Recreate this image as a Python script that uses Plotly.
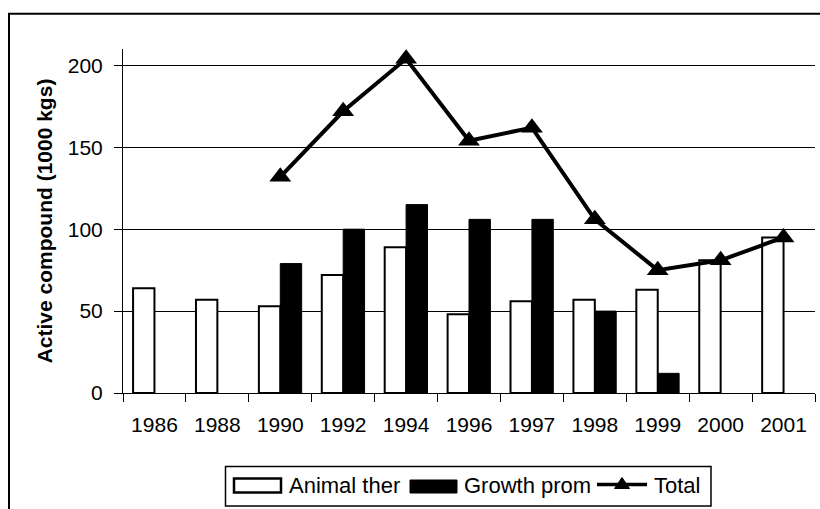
import plotly.graph_objects as go

years = ["1986", "1988", "1990", "1992", "1994", "1996", "1997", "1998", "1999", "2000", "2001"]
animal_ther = [64, 57, 53, 72, 89, 48, 56, 57, 63, 81, 95]
growth_prom = [None, None, 79, 100, 115, 106, 106, 50, 12, None, None]
total = [None, None, 132, 172, 204, 154, 162, 106, 75, 81, 95]
y_ticks = [0, 50, 100, 150, 200]

FONT = "Liberation Sans, Arial, sans-serif"
W, H = 820, 509
L, R, T, B = 123, 5, 49, 116
pw, ph = W - L - R, H - T - B

def px_x(x):
    return (x - L) / pw

def px_y(y):
    return (H - B - y) / ph

fig = go.Figure()
fig.add_trace(go.Bar(
    x=years, y=animal_ther, name="Animal ther",
    marker=dict(color="white", line=dict(color="black", width=2)),
))
fig.add_trace(go.Bar(
    x=years, y=growth_prom, name="Growth prom",
    marker=dict(color="black", line=dict(color="black", width=1)),
))
fig.add_trace(go.Scatter(
    x=years, y=total, name="Total", mode="lines+markers",
    line=dict(color="black", width=4),
    marker=dict(symbol="triangle-up", size=19, color="black"),
    connectgaps=False,
))

# legend drawn as a framed box (swatches + real text labels)
LEG_Y = 485.5
shapes = [
    dict(type="rect", xref="paper", yref="paper",
         x0=px_x(9), x1=px_x(860), y0=px_y(540), y1=px_y(13.7),
         line=dict(color="black", width=2), fillcolor="rgba(0,0,0,0)", layer="above"),
    dict(type="rect", xref="paper", yref="paper",
         x0=px_x(225.5), x1=px_x(711), y0=px_y(506), y1=px_y(466.5),
         line=dict(color="black", width=1.5), fillcolor="white", layer="above"),
    dict(type="rect", xref="paper", yref="paper",
         x0=px_x(234), x1=px_x(281), y0=px_y(492.5), y1=px_y(478.5),
         line=dict(color="black", width=2.5), fillcolor="white", layer="above"),
    dict(type="rect", xref="paper", yref="paper",
         x0=px_x(410), x1=px_x(457), y0=px_y(493), y1=px_y(480),
         line=dict(color="black", width=1), fillcolor="black", layer="above"),
    dict(type="line", xref="paper", yref="paper",
         x0=px_x(597), x1=px_x(647), y0=px_y(484.5), y1=px_y(484.5),
         line=dict(color="black", width=3.5), layer="above"),
    dict(type="path", xref="paper", yref="paper",
         path="M {:.5f} {:.5f} L {:.5f} {:.5f} L {:.5f} {:.5f} Z".format(
             px_x(614.5), px_y(488.5), px_x(629.5), px_y(488.5), px_x(622), px_y(477.5)),
         line=dict(color="black", width=1), fillcolor="black", layer="above"),
]
annotations = [
    dict(text=t, xref="paper", yref="paper", x=px_x(xl), y=px_y(LEG_Y),
         xanchor="left", yanchor="middle", showarrow=False,
         font=dict(family=FONT, size=22, color="black"))
    for t, xl in [("Animal ther", 287), ("Growth prom", 462), ("Total", 652)]
]

fig.update_layout(
    width=W, height=H,
    margin=dict(l=L, r=R, t=T, b=B, pad=0, autoexpand=False),
    paper_bgcolor="white", plot_bgcolor="white",
    font=dict(family=FONT, size=21, color="black"),
    barmode="group", bargap=0.32, bargroupgap=0,
    showlegend=False,
    xaxis=dict(
        type="category", range=[-0.5, 10.5], automargin=False,
        showgrid=False, showline=True, linecolor="black", linewidth=1,
        ticks="outside", tickson="boundaries", ticklen=8, tickcolor="black",
        ticklabelstandoff=13, zeroline=False,
    ),
    yaxis=dict(
        range=[0, 210], tickvals=y_ticks, automargin=False,
        showgrid=True, gridcolor="black", gridwidth=1,
        showline=True, linecolor="black", linewidth=1, ticks="outside", ticklen=8,
        tickcolor="black", zeroline=False, ticklabelstandoff=7,
        title=dict(text="<b>Active compound (1000 kgs)</b>", standoff=9,
                   font=dict(family=FONT, size=21, color="black")),
    ),
    shapes=shapes,
    annotations=annotations,
)

fig.write_html(
    "out.html",
    config={"displayModeBar": False},
    post_script=(
        "document.documentElement.style.overflow='hidden';"
        "document.body.style.margin='0';document.body.style.overflow='hidden';"
    ),
)
